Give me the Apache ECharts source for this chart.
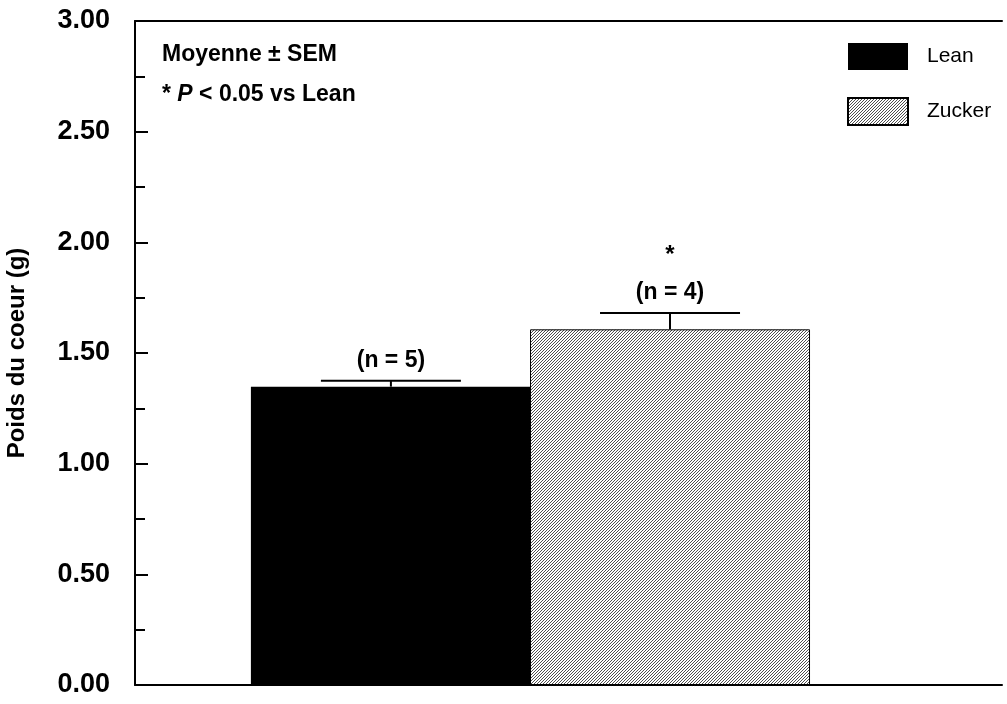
<!DOCTYPE html>
<html>
<head>
    <meta http-equiv="Content-Type" content="text/html; charset=utf-8" />
    <script src="https://cdn.jsdelivr.net/npm/echarts@6/dist/echarts.min.js"></script>
    <style>
        html, body { margin: 0; padding: 0; background: #fff; }
        #chart { width: 1007px; height: 704px; }
    </style>
</head>
<body>
<div id="chart"></div>

<script type="text/javascript">
    // données
    var groupes = ['Lean', 'Zucker'];
    var moyennes = [1.348, 1.607];
    var sem = [0.027, 0.074];
    var effectifs = ['(n = 5)', '(n = 4)'];
    var signif = ['', '*'];
    var yTicks = [0, 0.5, 1.0, 1.5, 2.0, 2.5, 3.0];

    // position des barres sur l'axe x (mise en page)
    var barPos = [0.915, 1.913];

    // motif hachuré ////
    function hachure() {
        var c = document.createElement('canvas');
        c.width = 3; c.height = 3;
        var ctx = c.getContext('2d');
        ctx.fillStyle = '#fff';
        ctx.fillRect(0, 0, 3, 3);
        ctx.strokeStyle = '#222';
        ctx.lineWidth = 0.8;
        ctx.beginPath();
        ctx.moveTo(0, 3); ctx.lineTo(3, 0);
        ctx.moveTo(-1, 1); ctx.lineTo(1, -1);
        ctx.moveTo(2, 4); ctx.lineTo(4, 2);
        ctx.stroke();
        return c;
    }

    var police = 'Liberation Sans, Arial, sans-serif';
    var styles = [
        { color: '#000' },
        { color: { image: hachure(), repeat: 'repeat' }, borderColor: '#000', borderWidth: 1 }
    ];

    var series = groupes.map(function (g, i) {
        return {
            name: g,
            type: 'bar',
            barWidth: 280,
            barGap: '-100%',
            data: [[barPos[i], moyennes[i]]],
            itemStyle: styles[i],
            emphasis: { disabled: true },
            z: 2
        };
    });

    var errData = groupes.map(function (g, i) {
        return [barPos[i], moyennes[i], sem[i], i];
    });

    series.push({
        type: 'custom',
        data: errData,
        z: 3,
        silent: true,
        renderItem: function (params, api) {
            var x = api.value(0), m = api.value(1), s = api.value(2), idx = api.value(3);
            var p0 = api.coord([x, m]);
            var p1 = api.coord([x, m + s]);
            var half = 70;
            var st = { stroke: '#000', lineWidth: 2 };
            var children = [
                { type: 'line', shape: { x1: p0[0], y1: p0[1], x2: p1[0], y2: p1[1] }, style: st },
                { type: 'line', shape: { x1: p1[0] - half, y1: p1[1], x2: p1[0] + half, y2: p1[1] }, style: st },
                { type: 'text', style: {
                    text: effectifs[idx], x: p1[0], y: p1[1] - 9,
                    align: 'center', verticalAlign: 'bottom',
                    textAlign: 'center', textVerticalAlign: 'bottom',
                    font: 'bold 23px ' + police, fill: '#000' } }
            ];
            if (signif[idx]) {
                children.push({ type: 'text', style: {
                    text: signif[idx], x: p1[0], y: p1[1] - 46,
                    align: 'center', verticalAlign: 'bottom',
                    textAlign: 'center', textVerticalAlign: 'bottom',
                    font: 'bold 24px ' + police, fill: '#000' } });
            }
            return { type: 'group', children: children };
        }
    });

    var chart = echarts.init(document.getElementById('chart'), null, { renderer: 'canvas' });
    var option = {
        animation: false,
        backgroundColor: '#fff',
        title: {
            left: 157,
            top: 30,
            text: '{b|Moyenne ± SEM}\n{b|* }{i|P}{b| < 0.05 vs Lean}',
            textStyle: {
                lineHeight: 40,
                rich: {
                    b: { fontFamily: police, fontWeight: 'bold', fontSize: 23, color: '#000', lineHeight: 40 },
                    i: { fontFamily: police, fontWeight: 'bold', fontStyle: 'italic', fontSize: 23, color: '#000', lineHeight: 40 }
                }
            }
        },
        legend: {
            data: groupes,
            orient: 'vertical',
            left: 847,
            top: 43,
            padding: 0,
            itemWidth: 60,
            itemHeight: 27,
            itemGap: 27,
            icon: 'rect',
            selectedMode: false,
            textStyle: { fontFamily: police, fontSize: 21, color: '#000', padding: [0, 0, 0, 14] }
        },
        grid: { left: 135, right: 5, top: 21, bottom: 19, containLabel: false, outerBoundsMode: 'none' },
        xAxis: [{
            type: 'value',
            min: 0,
            max: 3.1,
            axisLine: { show: true, onZero: false, lineStyle: { color: '#000', width: 2 } },
            axisTick: { show: false },
            axisLabel: { show: false },
            splitLine: { show: false }
        }, {
            type: 'value',
            position: 'top',
            min: 0,
            max: 3.1,
            axisLine: { show: true, onZero: false, lineStyle: { color: '#000', width: 2 } },
            axisTick: { show: false },
            axisLabel: { show: false },
            splitLine: { show: false }
        }],
        yAxis: {
            type: 'value',
            min: yTicks[0],
            max: yTicks[yTicks.length - 1],
            interval: 0.5,
            name: 'Poids du coeur (g)',
            nameLocation: 'middle',
            nameGap: 106,
            nameTextStyle: { fontFamily: police, fontWeight: 'bold', fontSize: 24, color: '#000' },
            axisLine: { show: true, lineStyle: { color: '#000', width: 2 } },
            axisTick: { show: true, inside: true, length: 13, lineStyle: { color: '#000', width: 2 } },
            minorTick: { show: true, splitNumber: 2, length: 10, lineStyle: { color: '#000', width: 2 } },
            axisLabel: {
                margin: 25,
                fontFamily: police,
                fontWeight: 'bold',
                fontSize: 27,
                color: '#000',
                formatter: function (v) { return v.toFixed(2); }
            },
            splitLine: { show: false }
        },
        series: series
    };
    chart.setOption(option);
</script>
</body>
</html>
